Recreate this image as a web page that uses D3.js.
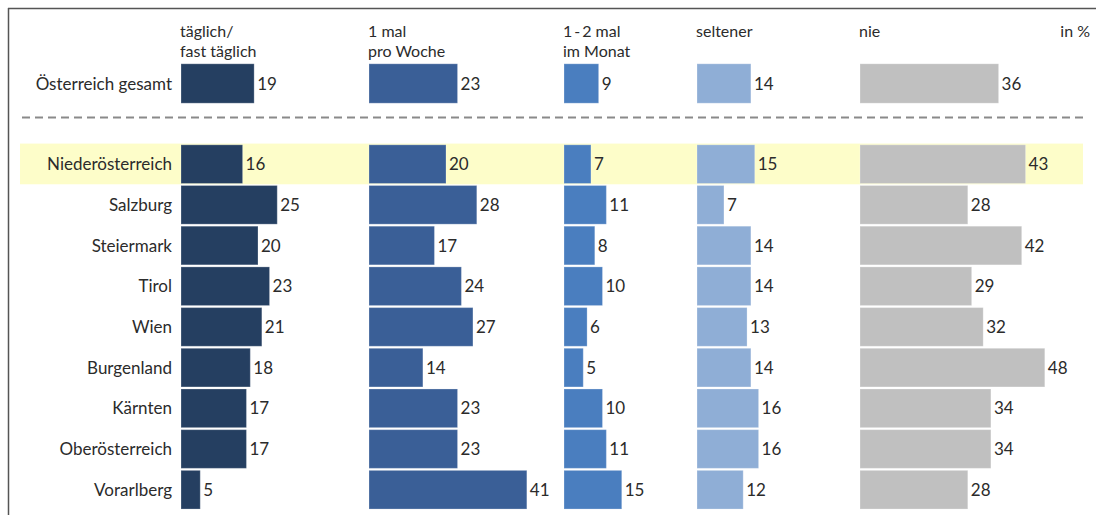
<!DOCTYPE html>
<html>
<head>
<meta charset="utf-8">
<script src="https://cdn.jsdelivr.net/npm/d3@7"></script>
<style>
  html, body { margin: 0; padding: 0; background: #fff; }
  svg { display: block; }
  text { font-family: Lato, "Open Sans", sans-serif; fill: #2b2b2b; }
</style>
</head>
<body>
<svg id="chart" width="1096" height="515"></svg>
<script>
// ---- data ----
const categories = ["täglich/\nfast täglich", "1 mal\npro Woche", "1\u2009-\u20092 mal\nim Monat", "seltener", "nie"];
const totalLabel = "Österreich gesamt";
const totalValues = [19, 23, 9, 14, 36];
const regions = ["Niederösterreich", "Salzburg", "Steiermark", "Tirol", "Wien", "Burgenland", "Kärnten", "Oberösterreich", "Vorarlberg"];
const taeglich   = [16, 25, 20, 23, 21, 18, 17, 17, 5];
const proWoche   = [20, 28, 17, 24, 27, 14, 23, 23, 41];
const imMonat    = [7, 11, 8, 10, 6, 5, 10, 11, 15];
const seltener   = [15, 7, 14, 14, 13, 14, 16, 16, 12];
const nie        = [43, 28, 42, 29, 32, 48, 34, 34, 28];
const highlighted = "Niederösterreich";
const unitLabel = "in %";

const series = [taeglich, proWoche, imMonat, seltener, nie];
const colors = ["#253f61", "#3a5f97", "#4a7ebf", "#8faed6", "#c0c0c0"];
const colX = [181, 369, 564, 697, 860];

const svg = d3.select("#chart");

// frame
svg.append("line").attr("x1", 8).attr("x2", 1096).attr("y1", 8.5).attr("y2", 8.5)
  .attr("stroke", "#555").attr("stroke-width", 1.5);
svg.append("line").attr("x1", 8.5).attr("x2", 8.5).attr("y1", 8).attr("y2", 515)
  .attr("stroke", "#555").attr("stroke-width", 1.5);

const x = d3.scaleLinear().domain([0, 10]).range([0, 38.5]);

const y = d3.scaleBand().domain(regions).range([144, 144 + 40.65 * regions.length]).paddingInner(0.05).paddingOuter(0.02);
const yTotal = d3.scaleBand().domain([totalLabel]).range([63, 104]).padding(0.02);

// highlight band
svg.append("rect")
  .attr("x", 20).attr("width", 1063)
  .attr("y", y(highlighted) - y.step() * 0.03).attr("height", y.step())
  .attr("fill", "#fdfdc9");

// headers (one text element per line)
categories.forEach((c, i) => {
  c.split("\n").forEach((line, j) => {
    svg.append("text").attr("x", colX[i] - 1).attr("y", 37 + j * 19.5)
      .style("font-size", "16px").text(line);
  });
});
svg.append("text").attr("x", 1090).attr("y", 37).attr("text-anchor", "end")
  .style("font-size", "16px").text(unitLabel);

// dashed separator
svg.append("line").attr("x1", 22).attr("x2", 1083).attr("y1", 117.5).attr("y2", 117.5)
  .attr("stroke", "#8a8a8a").attr("stroke-width", 2).attr("stroke-dasharray", "8,5");

function drawRow(label, values, yPos, h) {
  svg.append("text").attr("x", 172).attr("y", yPos + h / 2).attr("dy", "0.36em")
    .attr("text-anchor", "end").style("font-size", "17px").text(label);
  values.forEach((v, i) => {
    svg.append("rect").attr("x", colX[i]).attr("y", yPos)
      .attr("width", x(v)).attr("height", h)
      .attr("fill", colors[i]).attr("stroke", "#ffffff").attr("stroke-opacity", 0.25).attr("stroke-width", 1);
    svg.append("text").attr("x", colX[i] + x(v) + 3).attr("y", yPos + h / 2).attr("dy", "0.36em")
      .style("font-size", "17px").text(v);
  });
}

drawRow(totalLabel, totalValues, yTotal(totalLabel), yTotal.bandwidth());
regions.forEach((r, k) => {
  drawRow(r, series.map(s => s[k]), y(r), y.bandwidth());
});
</script>
</body>
</html>
